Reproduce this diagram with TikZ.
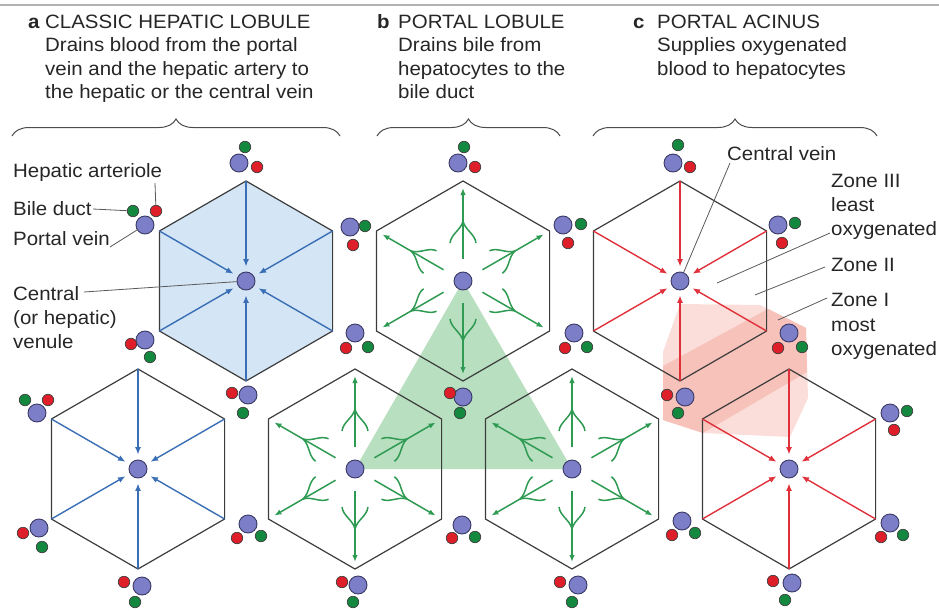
\documentclass[tikz,border=0pt]{standalone}
\usepackage{fontspec}
\setmainfont{Liberation Sans}[FakeStretch=1.06]
\usetikzlibrary{arrows.meta,calc,decorations.pathreplacing}

\definecolor{hexline}{HTML}{3C3C3C}
\definecolor{bluearr}{HTML}{3A6EB5}
\definecolor{bluefill}{HTML}{D4E5F5}
\definecolor{redarr}{HTML}{E0313B}
\definecolor{greenarr}{HTML}{2E9A52}
\definecolor{trifill}{HTML}{B8DFC0}
\definecolor{pinkout}{HTML}{FBDED9}
\definecolor{pinkin}{HTML}{F6C2BA}
\definecolor{veinfill}{HTML}{7D7EC8}
\definecolor{veinline}{HTML}{3A3A66}
\definecolor{ductfill}{HTML}{13883E}
\definecolor{artfill}{HTML}{DE1F2A}
\definecolor{txt}{HTML}{262626}

% hexagon corner coordinates: name, x, y
\newcommand\mkhex[3]{%
  \coordinate (#1) at (#2,#3);
  \coordinate (#1v1) at (#2,#3-100);
  \coordinate (#1v2) at (#2+86.6,#3-50);
  \coordinate (#1v3) at (#2+86.6,#3+50);
  \coordinate (#1v4) at (#2,#3+100);
  \coordinate (#1v5) at (#2-86.6,#3+50);
  \coordinate (#1v6) at (#2-86.6,#3-50);
}
\newcommand\drawhex[2]{\path[#2] (#1v1) -- (#1v2) -- (#1v3) -- (#1v4) -- (#1v5) -- (#1v6) -- cycle;}
\newcommand\inspokes[2]{\foreach \k in {1,...,6} {\draw[#2] (#1v\k) -- (#1c);}}
\newcommand\outspokes[1]{%
  \foreach \k/\ang in {1/90,2/30,3/-30,4/-90,5/-150,6/150} {%
    \draw[gspoke] (#1c) -- (#1v\k);
    \begin{scope}[shift={(#1)},rotate=\ang]
      \draw[gbranch] (38,13) .. controls (47,12) and (51,2) .. (60,0);
      \draw[gbranch] (38,-13) .. controls (47,-12) and (51,-2) .. (60,0);
    \end{scope}
  }%
}
% portal triad: name, big x,y, green x,y, red x,y
\newcommand\triad[7]{%
  \node[veinnode] (#1b) at (#2,#3) {};
  \node[ductnode] (#1g) at (#4,#5) {};
  \node[artnode] (#1r) at (#6,#7) {};
}

\begin{document}
\begin{tikzpicture}[x=1pt,y=-1pt,
  hexo/.style={draw=hexline,line width=1.2pt},
  barrow/.style={draw=bluearr,line width=1.4pt,-{Latex[length=7.5pt,width=6pt]},shorten >=5pt},
  rarrow/.style={draw=redarr,line width=1.4pt,-{Latex[length=7.5pt,width=6pt]},shorten >=5pt},
  gspoke/.style={draw=greenarr,line width=1.5pt,-{Latex[length=7pt,width=5.5pt]},shorten <=13pt,shorten >=7pt},
  gbranch/.style={draw=greenarr,line width=1.5pt},
  veinnode/.style={circle,draw=veinline,fill=veinfill,line width=0.9pt,minimum size=18pt,inner sep=0pt},
  ductnode/.style={circle,draw=black!75,fill=ductfill,line width=0.7pt,minimum size=11.5pt,inner sep=0pt},
  artnode/.style={circle,draw=black!75,fill=artfill,line width=0.7pt,minimum size=11.5pt,inner sep=0pt},
  lbl/.style={text=txt,font=\fontsize{19.3}{24.2}\selectfont,inner sep=0pt,align=left},
  head/.style={text=txt,font=\fontsize{19.3}{23.3}\selectfont,inner sep=0pt,align=left},
  leader/.style={draw=black!65,line width=0.8pt},
  bracestyle/.style={draw=black!70,line width=1pt,decorate,decoration={brace,amplitude=17pt}}
]
\useasboundingbox (0,0) rectangle (939,610);

% top rule
\draw[draw=black!30,line width=2.5pt] (0,5) -- (939,5);

% lattice of lobules
\mkhex{A1}{246}{281}
\mkhex{A2}{138}{469}
\mkhex{B1}{463}{281}
\mkhex{B2}{355}{469}
\mkhex{B3}{572}{469}
\mkhex{C1}{680}{281}
\mkhex{C2}{789}{469}

% background fills
\drawhex{A1}{fill=bluefill}
\fill[trifill] (B1) -- (B2) -- (B3) -- cycle;
\fill[pinkout] (663,352) -- (680,304) -- (760,305) -- (806,328) -- (808,398) -- (790,437) -- (703,433) -- (663,420) -- cycle;
\fill[pinkin] (663,366) -- (768,309) -- (806,328) -- (807,372) -- (703,433) -- (663,420) -- cycle;

% outlines
\foreach \h in {A1,A2,B1,B2,B3,C1,C2} {\drawhex{\h}{hexo}}

% central veins
\foreach \h in {A1,A2,B1,B2,B3,C1,C2} {\node[veinnode] (\h c) at (\h) {};}

% flows
\inspokes{A1}{barrow}
\inspokes{A2}{barrow}
\inspokes{C1}{rarrow}
\inspokes{C2}{rarrow}
\outspokes{B1}
\outspokes{B2}
\outspokes{B3}

% portal triads
\triad{t1}{239}{163}{245}{147}{257}{167}
\triad{t2}{145}{225}{133}{211}{156}{211}
\triad{t3}{145}{340}{150}{357}{131}{344}
\triad{t4}{350}{227}{365}{226}{353}{245}
\triad{t5}{355}{333}{368}{347}{346}{348}
\triad{t6}{458}{163}{464}{147}{475}{167}
\triad{t7}{563}{225}{581}{224}{568}{243}
\triad{t8}{574}{333}{587}{347}{565}{348}
\triad{t9}{673}{163}{678}{145}{690}{167}
\triad{t10}{778}{225}{795}{223}{782}{243}
\triad{t11}{789}{333}{802}{347}{778}{348}
\triad{t12}{37}{413}{25}{400}{48}{400}
\triad{t13}{248}{395}{243}{413}{232}{393}
\triad{t14}{463}{397}{460}{413}{450}{393}
\triad{t15}{685}{397}{678}{413}{667}{395}
\triad{t16}{890}{413}{907}{411}{894}{430}
\triad{t17}{39}{528}{42}{547}{23}{533}
\triad{t18}{248}{524}{261}{536}{237}{538}
\triad{t19}{462}{525}{475}{537}{452}{538}
\triad{t20}{682}{521}{695}{533}{672}{535}
\triad{t21}{890}{523}{903}{535}{881}{537}
\triad{t22}{142}{586}{135}{602}{124}{582}
\triad{t23}{358}{585}{353}{602}{342}{582}
\triad{t24}{578}{585}{572}{602}{560}{582}
\triad{t25}{792}{583}{785}{600}{773}{581}

% headings
\node[head,anchor=base west] (la) at (28,28.3) {\textbf{a}};
\node[head,anchor=north west] (ha) at (45,13.8) {\rule{0pt}{14.5pt}CLASSIC HEPATIC LOBULE\\Drains blood from the portal\\vein and the hepatic artery to\\the hepatic or the central vein};
\node[head,anchor=base west] (lb) at (377,28.3) {\textbf{b}};
\node[head,anchor=north west] (hb) at (398,13.8) {\rule{0pt}{14.5pt}PORTAL LOBULE\\Drains bile from\\hepatocytes to the\\bile duct};
\node[head,anchor=base west] (lc) at (633,28.3) {\textbf{c}};
\node[head,anchor=north west] (hc) at (657,13.8) {\rule{0pt}{14.5pt}PORTAL ACINUS\\Supplies oxygenated\\blood to hepatocytes};

% braces
\draw[bracestyle] (12,136) -- (340,136);
\draw[bracestyle] (377,136) -- (560,136);
\draw[bracestyle] (593,136) -- (877,136);

% panel a labels
\node[lbl,anchor=base west] (lha) at (13,177) {Hepatic arteriole};
\node[lbl,anchor=base west] (lbd) at (13,215) {Bile duct};
\node[lbl,anchor=base west] (lpv) at (13,245) {Portal vein};
\node[lbl,anchor=north west] (lcv) at (13,285.5) {\rule{0pt}{14.5pt}Central\\(or hepatic)\\venule};
\coordinate (haend) at (155,183);
\coordinate (bdend) at (93,209);
\coordinate (pvend) at (110,247);
\coordinate (cvend) at (84,292);
\draw[leader] (haend) -- (t2r);
\draw[leader] (bdend) -- (t2g);
\draw[leader] (pvend) -- (t2b);
\draw[leader] (cvend) -- (A1c);

% panel c labels
\node[lbl,anchor=base west] (lcen) at (727,160) {Central vein};
\node[lbl,anchor=north west] (lz3) at (831,172.5) {\rule{0pt}{14.5pt}Zone III\\least\\oxygenated};
\node[lbl,anchor=base west] (lz2) at (831,271.7) {Zone II};
\node[lbl,anchor=north west] (lz1) at (831,292.2) {\rule{0pt}{14.5pt}Zone I\\most\\oxygenated};
\coordinate (cenend) at (730,163);
\coordinate (z3a) at (830,233);
\coordinate (z3b) at (717,283);
\coordinate (z2a) at (825,267);
\coordinate (z2b) at (755,295);
\coordinate (z1a) at (827,298);
\coordinate (z1b) at (778,320);
\draw[leader] (cenend) -- (C1c);
\draw[leader] (z3a) -- (z3b);
\draw[leader] (z2a) -- (z2b);
\draw[leader] (z1a) -- (z1b);
\end{tikzpicture}
\end{document}
